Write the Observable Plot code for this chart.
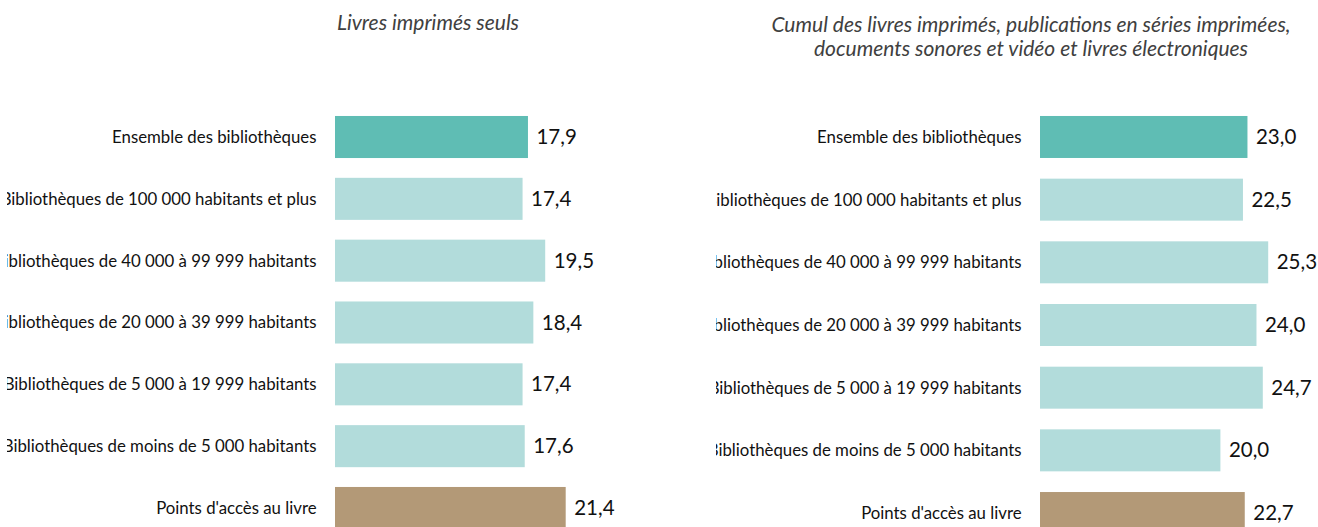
<!DOCTYPE html>
<html>
<head>
<meta charset="utf-8">
<script src="https://cdn.jsdelivr.net/npm/d3@7"></script>
<script src="https://cdn.jsdelivr.net/npm/@observablehq/plot@0.6"></script>
<style>
  html, body { margin: 0; padding: 0; background: #fff; overflow: hidden; width: 1318px; height: 527px; }
  .title { position: absolute; z-index: 2; font-family: Lato, sans-serif; font-style: italic; color: #404040; font-size: 21px; line-height: 24px; text-align: center; white-space: nowrap; transform: translateX(-50%); }
  .panel { position: absolute; z-index: 1; top: 0; overflow: hidden; }
</style>
</head>
<body>
<div class="panel" id="p1" style="left:7px; width:653px; height:560px;"></div>
<div class="panel" id="p2" style="left:716px; width:602px; height:560px;"></div>
<div class="title" id="t1" style="left:428px; top:10px;"></div>
<div class="title" id="t2" style="left:1031px; top:12px;"></div>
<script>
const categories = [
  "Ensemble des bibliothèques",
  "Bibliothèques de 100 000 habitants et plus",
  "Bibliothèques de 40 000 à 99 999 habitants",
  "Bibliothèques de 20 000 à 39 999 habitants",
  "Bibliothèques de 5 000 à 19 999 habitants",
  "Bibliothèques de moins de 5 000 habitants",
  "Points d'accès au livre"
];
const livresImprimes = [17.9, 17.4, 19.5, 18.4, 17.4, 17.6, 21.4];
const cumulSupports = [23.0, 22.5, 25.3, 24.0, 24.7, 20.0, 22.7];
const titles = [
  ["Livres imprimés seuls"],
  ["Cumul des livres imprimés, publications en séries imprimées,", "documents sonores et vidéo et livres électroniques"]
];

const TEAL = "#5fbdb4", LIGHT = "#b2dcdb", TAN = "#b39977";
const fillOf = d => d.cat === categories[0] ? TEAL : d.cat === categories[categories.length - 1] ? TAN : LIGHT;
const fmt = v => v.toFixed(1).replace(".", ",");

function panel(values, opts) {
  const data = categories.map((cat, i) => ({cat, value: values[i]}));
  return Plot.plot({
    width: opts.width,
    height: 560,
    marginLeft: opts.marginLeft,
    marginRight: 0,
    marginTop: 0,
    marginBottom: 0,
    style: {fontFamily: "Lato, sans-serif", fontSize: "16.8px", color: "#111", background: "transparent", overflow: "hidden"},
    x: {domain: [0, opts.xmax], axis: null},
    y: {domain: categories, range: opts.yrange, padding: opts.pad, round: false, label: null},
    marks: [
      Plot.barX(data, {x: "value", y: "cat", fill: fillOf}),
      Plot.axisY({tickSize: 0, tickPadding: 19, label: null, fontSize: 16.8, fill: "#111"}),
      Plot.text(data, {x: "value", y: "cat", text: d => fmt(d.value), textAnchor: "start", dx: 8, fontSize: 20.5, fill: "#111"})
    ]
  });
}

document.getElementById("p1").append(panel(livresImprimes, {width: 653, marginLeft: 328, xmax: 325 / 10.78, yrange: [96.2, 548.8], pad: 0.32}));
document.getElementById("p2").append(panel(cumulSupports, {width: 602, marginLeft: 324, xmax: 278 / 9.02, yrange: [95.3, 554.7], pad: 0.33}));

document.getElementById("t1").innerHTML = titles[0].join("<br>");
document.getElementById("t2").innerHTML = titles[1].join("<br>");
</script>
</body>
</html>
